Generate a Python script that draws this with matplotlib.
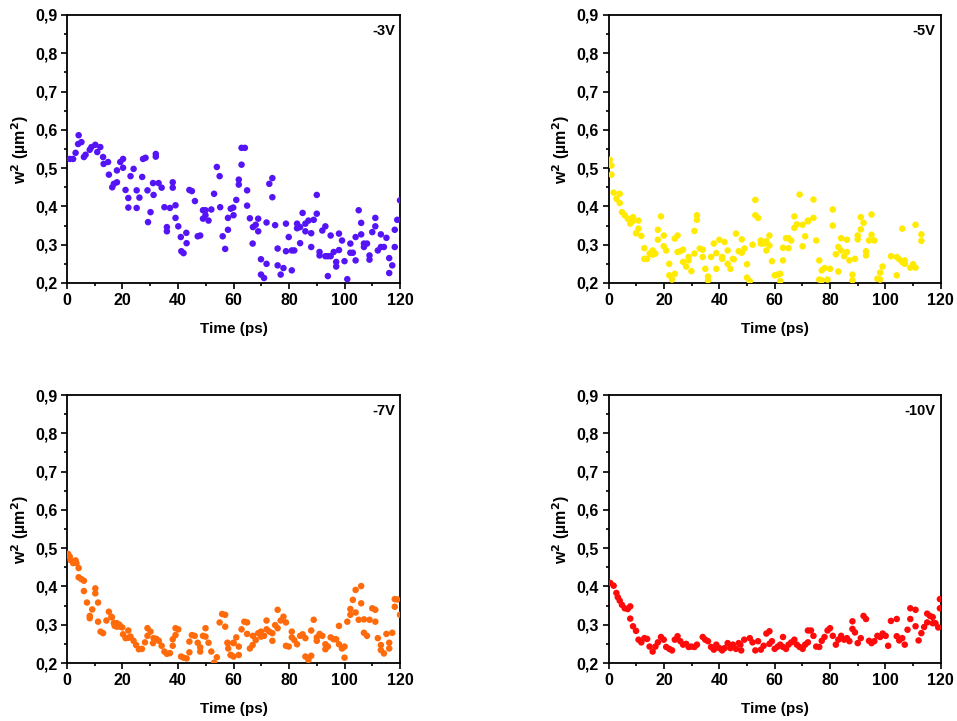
import matplotlib.pyplot as plt
from matplotlib.ticker import MultipleLocator, FuncFormatter

plt.rcParams['font.family'] = ['Liberation Sans', 'DejaVu Sans']
plt.rcParams['font.weight'] = 'bold'
plt.rcParams['mathtext.default'] = 'bf'

# -3V
t_3v = [1, 2.2, 3.1, 4.2, 4, 5.2, 6.1, 6.7, 8.2, 8.8, 10.2, 10.9, 12, 13, 13.2, 14.8, 15.1, 16.3,
        16.9, 18, 18, 19.2, 20.2, 20.2, 21.1, 22.1, 22.1, 22.9, 24, 25.1, 25.1, 26.1, 27.1, 27.4,
        28.3, 29, 29.2, 30.1, 31, 31.2, 32, 32, 33, 34.1, 35.1, 36, 36, 37.1, 38.1, 38.1, 39.1,
        39.1, 40.1, 41, 41.2, 42, 43, 43.1, 44.1, 45, 46.1, 47.1, 48, 49, 49, 49.9, 49.9, 51, 52,
        53, 54, 55, 55.2, 56.1, 57, 58, 58, 59, 59.9, 60, 61, 61.9, 61.9, 62.9, 62.9, 64.1, 64.9,
        64.9, 65.9, 66.9, 67, 68, 68.9, 68.9, 69.9, 69.9, 71, 71.9, 71.9, 72.9, 74, 74, 75, 75.9,
        75.9, 77, 78, 78.9, 78.9, 79.9, 81, 81, 81.9, 82.9, 82.9, 84, 84, 84.9, 85.9, 85.9, 87,
        88, 88, 88.9, 90, 90, 91, 91, 92, 93.1, 93.1, 94, 94, 95, 95, 96.1, 97, 97, 98, 98, 99.1,
        100, 101, 102.1, 102.1, 103, 104, 104, 105.1, 106, 106, 107, 107, 108.1, 109, 109, 110,
        111.1, 111.1, 112, 113.1, 113.1, 114.2, 115.1, 116.1, 116.1, 117.2, 118.1, 118.1, 119, 120]
w_3v = [0.524, 0.524, 0.54, 0.586, 0.563, 0.568, 0.529, 0.535, 0.548, 0.555, 0.561, 0.542, 0.555,
        0.529, 0.511, 0.516, 0.483, 0.45, 0.459, 0.463, 0.494, 0.516, 0.524, 0.501, 0.443, 0.422,
        0.397, 0.479, 0.498, 0.396, 0.442, 0.423, 0.477, 0.524, 0.527, 0.442, 0.359, 0.385, 0.461,
        0.43, 0.537, 0.53, 0.461, 0.449, 0.398, 0.346, 0.335, 0.396, 0.463, 0.449, 0.403, 0.37,
        0.348, 0.32, 0.283, 0.278, 0.331, 0.304, 0.443, 0.44, 0.414, 0.322, 0.324, 0.39, 0.368,
        0.39, 0.377, 0.363, 0.392, 0.433, 0.503, 0.479, 0.398, 0.322, 0.289, 0.339, 0.37, 0.394,
        0.397, 0.377, 0.417, 0.47, 0.457, 0.509, 0.553, 0.553, 0.442, 0.402, 0.369, 0.303, 0.346,
        0.352, 0.335, 0.368, 0.262, 0.222, 0.213, 0.25, 0.358, 0.459, 0.474, 0.424, 0.351, 0.29,
        0.246, 0.222, 0.239, 0.355, 0.283, 0.32, 0.233, 0.285, 0.285, 0.355, 0.343, 0.304, 0.346,
        0.383, 0.335, 0.355, 0.363, 0.33, 0.294, 0.365, 0.381, 0.43, 0.281, 0.272, 0.337, 0.348,
        0.27, 0.218, 0.27, 0.324, 0.27, 0.281, 0.255, 0.243, 0.329, 0.286, 0.311, 0.257, 0.21,
        0.303, 0.279, 0.279, 0.259, 0.32, 0.39, 0.357, 0.327, 0.303, 0.294, 0.303, 0.272, 0.261,
        0.333, 0.37, 0.348, 0.285, 0.327, 0.294, 0.294, 0.318, 0.265, 0.226, 0.246, 0.294, 0.339,
        0.365, 0.416]

# -5V
t_5v = [0.4, 1, 1, 1.8, 2.8, 4, 4, 4.8, 5.8, 6.9, 7.8, 8.8, 8.8, 9.9, 10.8, 10.8, 11.8, 12.9,
        12.9, 13.9, 14.8, 15.9, 15.9, 16.9, 17.8, 17.8, 18.9, 19.9, 19.9, 20.8, 21.9, 21.9, 22.9,
        23.9, 23.9, 24.9, 24.9, 25.9, 26.9, 26.9, 28, 28.9, 28.9, 29.9, 31, 31, 31.9, 31.9, 32.9,
        34, 34, 34.9, 35.9, 35.9, 37, 38, 38.9, 38.9, 40, 41, 41, 41.9, 43, 43, 44, 44.9, 45.2, 46,
        47, 48.1, 48.1, 49.1, 50, 50, 51, 52, 53, 53, 54, 55, 55, 56, 57, 57, 58.1, 58.1, 59, 60,
        61.1, 62, 62, 63, 63, 64.1, 65, 65, 66, 67.1, 67.1, 68, 69, 70.1, 70.1, 71, 72, 72, 74, 74,
        75, 76.1, 76.1, 77, 77, 78, 79.1, 80, 81, 81, 82.1, 83, 83, 84, 84, 85.1, 86.1, 86.1, 87,
        88.1, 88.1, 89, 90, 90, 91.1, 91.1, 92.1, 93, 93, 94.1, 95, 95, 96, 97.1, 98.1, 98.1, 99,
        102, 104.1, 104.1, 105, 106.1, 106.1, 107, 107, 109, 110, 110.9, 110.9, 113, 113]
w_5v = [0.522, 0.507, 0.483, 0.436, 0.42, 0.433, 0.409, 0.385, 0.377, 0.368, 0.355, 0.372, 0.362,
        0.33, 0.363, 0.342, 0.323, 0.291, 0.263, 0.263, 0.277, 0.285, 0.274, 0.277, 0.339, 0.313,
        0.374, 0.324, 0.296, 0.285, 0.25, 0.22, 0.209, 0.224, 0.316, 0.324, 0.281, 0.283, 0.287,
        0.255, 0.243, 0.259, 0.268, 0.231, 0.336, 0.277, 0.365, 0.377, 0.29, 0.287, 0.268, 0.237,
        0.217, 0.207, 0.268, 0.303, 0.237, 0.278, 0.313, 0.263, 0.268, 0.307, 0.285, 0.25, 0.237,
        0.263, 0.262, 0.329, 0.283, 0.314, 0.279, 0.29, 0.249, 0.214, 0.205, 0.3, 0.417, 0.377,
        0.37, 0.311, 0.303, 0.303, 0.309, 0.285, 0.324, 0.298, 0.257, 0.22, 0.222, 0.224, 0.205,
        0.292, 0.259, 0.317, 0.317, 0.291, 0.311, 0.374, 0.344, 0.353, 0.431, 0.352, 0.296, 0.322,
        0.361, 0.363, 0.418, 0.37, 0.311, 0.259, 0.209, 0.233, 0.207, 0.239, 0.209, 0.237, 0.392,
        0.35, 0.275, 0.294, 0.23, 0.317, 0.285, 0.27, 0.313, 0.281, 0.259, 0.222, 0.207, 0.263,
        0.324, 0.314, 0.34, 0.372, 0.357, 0.283, 0.272, 0.311, 0.379, 0.326, 0.311, 0.211, 0.227,
        0.209, 0.243, 0.27, 0.268, 0.22, 0.262, 0.342, 0.255, 0.259, 0.25, 0.24, 0.249, 0.352,
        0.24, 0.327, 0.31]

# -7V
t_7v = [0.4, 1, 1.3, 2.2, 3.1, 3.4, 4.2, 4.2, 5.2, 6.1, 6.1, 7.2, 8.2, 8.2, 9.1, 10.2, 10.2, 11.2,
        11.2, 12.1, 13, 14.2, 15.1, 16, 16.2, 16.9, 17.2, 18, 18, 18.9, 19.2, 19.9, 20.2, 21.1,
        22.1, 22.1, 22.9, 24, 24.9, 25.9, 27, 28.1, 29, 29, 30.1, 31, 31.2, 32.2, 33.1, 34.1, 35.1,
        36, 37.1, 38.1, 38.1, 39.1, 39.1, 40.1, 41.1, 42, 43.1, 44.1, 44.1, 45, 46, 47.1, 48, 48,
        49, 49.9, 49.9, 51, 52, 53, 54, 55, 55.9, 57, 57, 57.8, 58, 58.1, 59, 59, 60, 60, 60, 61,
        61.9, 61.9, 62.9, 63.9, 64.9, 64.9, 65.9, 66.9, 67, 68, 68.9, 69.9, 69.9, 71, 71.9, 71.9,
        72.9, 74, 74, 75, 75.9, 75.9, 77, 78, 78.9, 78.9, 79.9, 81, 81, 81.9, 82.9, 84, 84.9, 85.9,
        85.9, 87, 88, 88, 88.9, 90, 90, 91, 92, 93.1, 93.1, 94, 95, 96.1, 97, 98, 98, 99.1, 100,
        100, 101, 102.1, 102.1, 103, 104, 104, 105.1, 106, 106, 107, 107, 108.1, 109, 110, 111.1,
        111.1, 112, 113.1, 113.1, 114.2, 115.1, 116.1, 116.1, 117.2, 118.1, 118.1, 119, 120]
w_7v = [0.485, 0.478, 0.469, 0.461, 0.468, 0.461, 0.448, 0.424, 0.419, 0.415, 0.388, 0.358, 0.323,
        0.317, 0.34, 0.395, 0.382, 0.358, 0.308, 0.282, 0.278, 0.311, 0.334, 0.321, 0.319, 0.304,
        0.297, 0.304, 0.295, 0.3, 0.295, 0.293, 0.275, 0.265, 0.285, 0.266, 0.269, 0.258, 0.247,
        0.236, 0.237, 0.254, 0.291, 0.271, 0.282, 0.252, 0.265, 0.263, 0.258, 0.245, 0.23, 0.224,
        0.226, 0.245, 0.262, 0.291, 0.273, 0.288, 0.217, 0.214, 0.212, 0.256, 0.228, 0.273, 0.271,
        0.253, 0.241, 0.23, 0.271, 0.291, 0.269, 0.253, 0.23, 0.201, 0.215, 0.306, 0.328, 0.295,
        0.326, 0.253, 0.252, 0.238, 0.221, 0.221, 0.217, 0.253, 0.252, 0.267, 0.243, 0.221, 0.288,
        0.308, 0.306, 0.276, 0.238, 0.247, 0.271, 0.26, 0.278, 0.269, 0.282, 0.271, 0.311, 0.288,
        0.282, 0.258, 0.278, 0.299, 0.339, 0.291, 0.311, 0.321, 0.306, 0.245, 0.243, 0.282, 0.267,
        0.26, 0.249, 0.271, 0.275, 0.265, 0.217, 0.208, 0.219, 0.285, 0.313, 0.267, 0.258, 0.276,
        0.271, 0.249, 0.236, 0.243, 0.267, 0.262, 0.262, 0.249, 0.297, 0.238, 0.243, 0.214, 0.308,
        0.341, 0.326, 0.365, 0.391, 0.332, 0.313, 0.401, 0.356, 0.279, 0.314, 0.271, 0.313, 0.343,
        0.339, 0.308, 0.265, 0.247, 0.234, 0.225, 0.276, 0.238, 0.253, 0.279, 0.347, 0.367, 0.366,
        0.326]

# -10V
t_10v = [0.6, 1.8, 2.8, 3.3, 4, 4.8, 5.8, 6.9, 7.8, 7.8, 8.8, 9.9, 10.8, 11.8, 12.9, 13.9, 14.8,
         15.9, 16.9, 17.8, 18.9, 19.9, 20.8, 21.9, 22.9, 23.9, 24.9, 25.9, 26.9, 28, 28.9, 29.9,
         31, 31.9, 34, 34.9, 35.9, 37, 38, 38.9, 40, 41, 41.9, 43, 44, 44.9, 46, 47, 47.6, 47.9,
         49, 51, 52, 53, 54, 55, 56, 57, 58.1, 58.1, 59, 60, 61.1, 62, 63, 63, 64.1, 65, 66, 67.1,
         68, 69, 70.1, 71, 72, 72, 73.1, 74, 75, 76.1, 77, 78, 79.1, 80, 81, 82.1, 83, 84, 85.1,
         86.1, 87, 88.1, 88.1, 89, 90, 91.1, 92.1, 93, 94.1, 95, 96, 97.1, 98.1, 99, 100.1, 101,
         102, 104.1, 104.1, 105, 106.1, 107, 108, 109, 109, 110.9, 110.9, 112, 113, 114, 115.1,
         115.1, 116.1, 117.1, 117.1, 118.1, 119.1, 119.7, 119.7]
w_10v = [0.409, 0.402, 0.383, 0.372, 0.363, 0.352, 0.343, 0.341, 0.348, 0.316, 0.296, 0.284, 0.261,
         0.254, 0.265, 0.263, 0.243, 0.23, 0.243, 0.254, 0.268, 0.261, 0.242, 0.237, 0.233, 0.261,
         0.27, 0.257, 0.248, 0.25, 0.242, 0.243, 0.242, 0.248, 0.268, 0.261, 0.257, 0.242, 0.235,
         0.248, 0.239, 0.233, 0.239, 0.252, 0.239, 0.248, 0.237, 0.252, 0.248, 0.233, 0.261, 0.265,
         0.254, 0.233, 0.257, 0.235, 0.245, 0.277, 0.283, 0.25, 0.257, 0.237, 0.243, 0.248, 0.268,
         0.242, 0.237, 0.248, 0.254, 0.261, 0.248, 0.242, 0.237, 0.248, 0.285, 0.254, 0.285, 0.271,
         0.243, 0.242, 0.258, 0.268, 0.285, 0.291, 0.271, 0.248, 0.261, 0.271, 0.261, 0.265, 0.257,
         0.309, 0.289, 0.28, 0.252, 0.265, 0.323, 0.315, 0.258, 0.252, 0.257, 0.271, 0.268, 0.277,
         0.271, 0.245, 0.31, 0.315, 0.27, 0.259, 0.265, 0.248, 0.287, 0.343, 0.315, 0.339, 0.296,
         0.259, 0.278, 0.294, 0.329, 0.306, 0.323, 0.32, 0.304, 0.304, 0.293, 0.367, 0.343]

panels = [
    (t_3v, w_3v, '#5414F5', '-3V'),
    (t_5v, w_5v, '#FFEA00', '-5V'),
    (t_7v, w_7v, '#FF6A0A', '-7V'),
    (t_10v, w_10v, '#FF0A0A', '-10V'),
]
positions = [
    [0.070, 0.6075, 0.348, 0.3717],
    [0.636, 0.6075, 0.347, 0.3717],
    [0.070, 0.0804, 0.348, 0.3717],
    [0.636, 0.0804, 0.347, 0.3717],
]

comma = FuncFormatter(lambda v, p: f'{v:.1f}'.replace('.', ','))

fig = plt.figure(figsize=(9.57, 7.21), dpi=100)
for (t, w, color, label), pos in zip(panels, positions):
    ax = fig.add_axes(pos)
    ax.scatter(t, w, s=22, color=color, edgecolors='none', zorder=3)
    ax.set_xlim(0, 120)
    ax.set_ylim(0.2, 0.9)
    ax.xaxis.set_major_locator(MultipleLocator(20))
    ax.xaxis.set_minor_locator(MultipleLocator(10))
    ax.yaxis.set_major_locator(MultipleLocator(0.1))
    ax.yaxis.set_minor_locator(MultipleLocator(0.05))
    ax.yaxis.set_major_formatter(comma)
    ax.tick_params(which='both', direction='out', top=False, right=False,
                   labelsize=11.5, width=1.2, pad=2.5)
    ax.tick_params(which='major', length=4.5)
    ax.tick_params(which='minor', length=2.5)
    for s in ax.spines.values():
        s.set_linewidth(1.3)
    for lab in ax.get_xticklabels() + ax.get_yticklabels():
        lab.set_fontweight('bold')
    ax.set_xlabel('Time (ps)', fontsize=11, fontweight='bold', labelpad=10)
    ax.set_ylabel(r'w$^2$ (µm$^2$)', fontsize=11.5, fontweight='bold', labelpad=3)
    ax.text(0.985, 0.965, label, transform=ax.transAxes, ha='right', va='top',
            fontsize=10.5, fontweight='bold')

plt.savefig('out.png', dpi=100)
